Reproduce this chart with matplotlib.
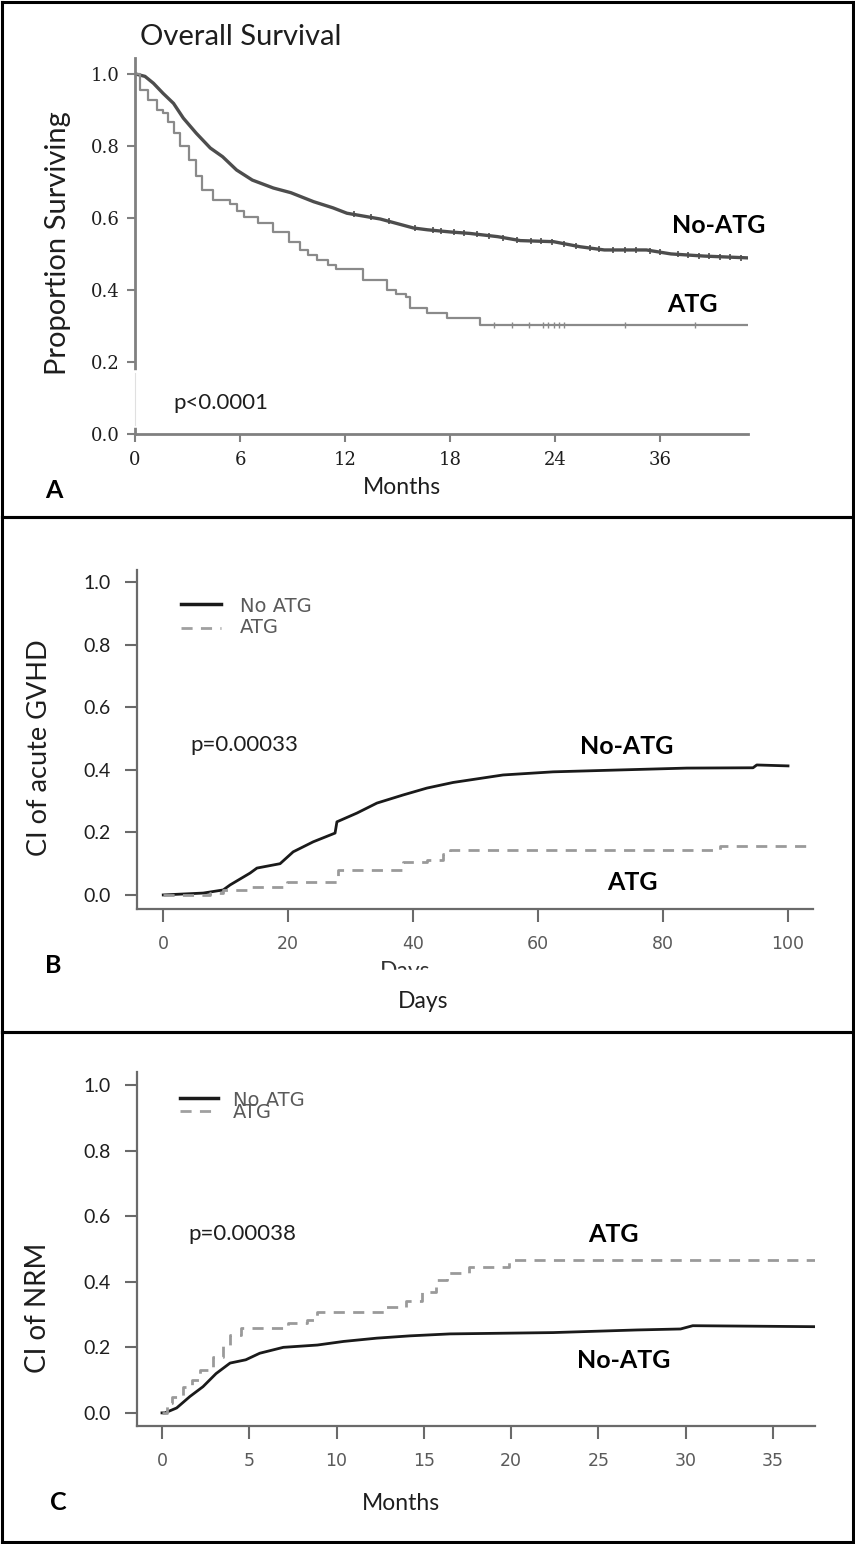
import numpy as np
import matplotlib
matplotlib.use("Agg")
import matplotlib.pyplot as plt
from matplotlib.lines import Line2D

W, H = 855, 1544

# ---------------- DATA ----------------
# Panel A: Overall survival (x in axis units; tick labels below)
a_noatg_t = [0, 0.57, 1.05, 1.6, 2.2, 2.76, 3.5, 4.3, 5.0, 5.8, 6.7, 7.9, 8.9, 10.2, 11.3,
             12.1, 14.0, 15.9, 16.7, 18.0, 19.1, 20.7, 22.0, 23.9, 25.4, 26.8, 29.2, 30.6,
             32.5, 35.0]
a_noatg_s = [1.0, 0.993, 0.974, 0.946, 0.918, 0.877, 0.835, 0.794, 0.770, 0.733, 0.705,
             0.683, 0.670, 0.645, 0.628, 0.613, 0.597, 0.572, 0.567, 0.561, 0.557, 0.548,
             0.537, 0.534, 0.520, 0.511, 0.511, 0.500, 0.494, 0.489]
a_atg_t = [0, 0.29, 0.76, 1.24, 1.6, 1.9, 2.2, 2.57, 3.1, 3.5, 3.8, 4.45, 5.4, 5.8, 6.2, 7.0,
           7.9, 8.8, 9.4, 9.9, 10.4, 11.0, 11.5, 13.0, 14.4, 14.9, 15.5, 15.7, 16.7, 17.8,
           19.7, 35.0]
a_atg_s = [1.0, 0.956, 0.928, 0.90, 0.89, 0.865, 0.835, 0.80, 0.76, 0.715, 0.678, 0.65,
           0.64, 0.62, 0.603, 0.585, 0.56, 0.533, 0.511, 0.497, 0.483, 0.47, 0.458, 0.428,
           0.40, 0.39, 0.38, 0.35, 0.336, 0.322, 0.303, 0.303]
a_noatg_cens = [12.5, 13.5, 14.5, 16.0, 17.0, 17.5, 18.2, 18.8, 19.5, 20.2, 21.0, 21.8, 22.6,
                23.2, 23.8, 24.5, 25.2, 26.0, 26.5, 27.3, 28.0, 28.6, 29.4, 30.0, 31.0, 31.6,
                32.2, 32.8, 33.4, 34.0, 34.6]
a_atg_cens = [20.5, 21.5, 22.5, 23.3, 23.6, 23.9, 24.2, 24.5, 28.0, 32.0]
a_xticks = [0, 6, 12, 18, 24, 30]
a_xticklabels = ["0", "6", "12", "18", "24", "36"]
a_yticks = [0.0, 0.2, 0.4, 0.6, 0.8, 1.0]

# Panel B: cumulative incidence of acute GVHD (days)
b_noatg_t = [0, 6.4, 9.6, 10.7, 13.9, 15.0, 18.7, 20.8, 24.0, 27.5, 27.8, 31.0, 34.2, 38.4,
             42.2, 46.4, 54.4, 62.4, 73.0, 83.8, 94.4, 95.0, 100.0]
b_noatg_c = [0.0, 0.006, 0.016, 0.032, 0.070, 0.086, 0.100, 0.138, 0.170, 0.198, 0.234,
             0.262, 0.294, 0.320, 0.342, 0.360, 0.384, 0.394, 0.400, 0.406, 0.407, 0.416, 0.413]
b_atg_t = [0, 7.5, 9.6, 13.4, 19.8, 28.0, 38.4, 42.2, 44.8, 45.9, 89.1, 104.0]
b_atg_c = [0.0, 0.006, 0.016, 0.026, 0.042, 0.080, 0.106, 0.112, 0.130, 0.144, 0.157, 0.157]
b_xticks = [0, 20, 40, 60, 80, 100]
b_yticks = [0.0, 0.2, 0.4, 0.6, 0.8, 1.0]

# Panel C: cumulative incidence of NRM (months)
c_noatg_t = [0, 0.17, 0.84, 1.6, 2.35, 3.1, 3.9, 4.8, 5.6, 6.95, 8.9, 10.4, 12.3, 14.2,
             16.5, 22.4, 27.2, 29.7, 30.4, 37.4]
c_noatg_c = [0.0, 0.0, 0.015, 0.05, 0.08, 0.12, 0.152, 0.162, 0.182, 0.200, 0.207, 0.218,
             0.228, 0.235, 0.241, 0.245, 0.253, 0.256, 0.266, 0.263]
c_atg_t = [0, 0.3, 0.57, 1.2, 1.7, 2.2, 2.9, 3.5, 3.9, 4.5, 7.2, 8.3, 8.9, 12.7, 14.0, 14.9,
           15.7, 16.3, 17.6, 19.9, 37.4]
c_atg_c = [0.0, 0.03, 0.05, 0.08, 0.10, 0.13, 0.17, 0.207, 0.238, 0.26, 0.275, 0.284, 0.308,
           0.324, 0.34, 0.37, 0.405, 0.427, 0.446, 0.467, 0.467]
c_xticks = [0, 5, 10, 15, 20, 25, 30, 35]
c_yticks = [0.0, 0.2, 0.4, 0.6, 0.8, 1.0]

series_labels = ["No ATG", "ATG"]

# ---------------- FIGURE ----------------
fig = plt.figure(figsize=(W / 100, H / 100), dpi=100)
fig.patch.set_facecolor("white")


def px_axes(l, t, r, b):
    return fig.add_axes([l / W, 1 - b / H, (r - l) / W, (b - t) / H])


def ftxt(x, y, s, **kw):
    kw.setdefault("va", "baseline")
    return fig.text(x / W, 1 - y / H, s, **kw)


def fline(xs, ys, **kw):
    fig.add_artist(Line2D([x / W for x in xs], [1 - y / H for y in ys],
                          transform=fig.transFigure, **kw))


def step_value(times, vals, q):
    idx = np.searchsorted(np.asarray(times), np.asarray(q), side="right") - 1
    return np.asarray(vals)[np.clip(idx, 0, len(vals) - 1)]


SANS = ["Lato", "DejaVu Sans"]
WIDE = ["DejaVu Sans"]
SERIF = ["DejaVu Serif"]
TXT = "#1e1e1e"

# panel borders
for (t, b) in [(2, 517), (517, 1032), (1032, 1542)]:
    for xs, ys in [([2, 853], [t, t]), ([2, 853], [b, b]), ([2, 2], [t, b]), ([853, 853], [t, b])]:
        fline(xs, ys, color="black", lw=2.2)

# ---------------- Panel A ----------------
axA = px_axes(135, 58, 748, 434)
axA.plot(a_noatg_t, a_noatg_s, color="#4d4d4d", lw=2.4, solid_joinstyle="round")
axA.step(a_atg_t, a_atg_s, where="post", color="#8a8a8a", lw=1.6)
axA.plot(a_noatg_cens, np.interp(a_noatg_cens, a_noatg_t, a_noatg_s), ls="none",
         marker="|", ms=5, mew=1.2, color="#4d4d4d")
axA.plot(a_atg_cens, step_value(a_atg_t, a_atg_s, a_atg_cens), ls="none",
         marker="|", ms=4, mew=1.0, color="#8a8a8a")
axA.set_xlim(0, 35)
axA.set_ylim(0, 1.044)
axA.set_xticks(a_xticks)
axA.set_xticklabels(a_xticklabels)
axA.set_yticks(a_yticks)
axA.set_yticklabels([f"{v:.1f}" for v in a_yticks])
for s in ["top", "right"]:
    axA.spines[s].set_visible(False)
for s in ["left", "bottom"]:
    axA.spines[s].set_color("#808080")
    axA.spines[s].set_linewidth(2.0)
axA.tick_params(axis="both", colors="#808080", width=1.5, length=6, direction="out")
axA.tick_params(axis="y", pad=5)
axA.tick_params(axis="x", pad=6)
for lab in axA.get_xticklabels() + axA.get_yticklabels():
    lab.set_family(SERIF)
    lab.set_fontsize(13)
    lab.set_color(TXT)
# break in the y axis behind the p-value
axA.plot([0, 0], [0.025, 0.17], color="white", lw=4, clip_on=False, zorder=5)
axA.plot([0, 0], [0.025, 0.17], color="#e0e0e0", lw=0.8, clip_on=False, zorder=6)

ftxt(140, 45, "Overall Survival", family=SANS, fontsize=21, ha="left", color=TXT)
ftxt(58, 243, "Proportion Surviving", family=SANS, fontsize=21, rotation=90,
     ha="center", va="center", color=TXT)
ftxt(173, 409, "p<0.0001", family=SANS, fontsize=16, ha="left", color=TXT)
ftxt(672, 233, "No-ATG", family=SANS, fontsize=18, weight="bold", ha="left", color="black")
ftxt(667, 312, "ATG", family=SANS, fontsize=18, weight="bold", ha="left", color="black")
ftxt(45, 498, "A", family=SANS, fontsize=18, weight="bold", ha="left", color="black")
ftxt(402, 494, "Months", family=SANS, fontsize=16.5, ha="center", color=TXT)


# ---------------- Panels B & C common styling ----------------
def style_bc(ax, xticks, yticks):
    ax.set_xticks(xticks)
    ax.set_yticks(yticks)
    ax.set_xticklabels([str(v) for v in xticks])
    ax.set_yticklabels([f"{v:.1f}" for v in yticks])
    for s in ["top", "right"]:
        ax.spines[s].set_visible(False)
    for s in ["left", "bottom"]:
        ax.spines[s].set_color("#6a6a6a")
        ax.spines[s].set_linewidth(1.6)
    ax.tick_params(axis="both", colors="#6a6a6a", width=1.5, length=9, direction="out")
    ax.tick_params(axis="y", pad=10)
    ax.tick_params(axis="x", pad=10)
    for lab in ax.get_xticklabels():
        lab.set_family(WIDE)
        lab.set_fontsize(12.5)
        lab.set_color("#5a5a5a")
    for lab in ax.get_yticklabels():
        lab.set_family(SANS)
        lab.set_fontsize(14)
        lab.set_color(TXT)


def manual_legend(x0, x1, tx, rows):
    for (ly, ty, style, lab) in rows:
        if style == "solid":
            fline([x0, x1], [ly, ly], color="#1a1a1a", lw=2.5)
        else:
            fline([x0, x1], [ly, ly], color="#a0a0a0", lw=2.0, ls=(0, (4, 3)))
        ftxt(tx, ty, lab, family=WIDE, fontsize=14, ha="left", color="#5a5a5a")


# ---------------- Panel B ----------------
axB = px_axes(137, 570, 813, 909)
axB.plot(b_noatg_t, b_noatg_c, color="#1a1a1a", lw=2.0)
axB.step(b_atg_t, b_atg_c, where="post", color="#9a9a9a", lw=2.0, ls=(0, (4, 3)))
axB.set_xlim(-4.2, 104)
axB.set_ylim(-0.045, 1.04)
style_bc(axB, b_xticks, b_yticks)
manual_legend(181, 221, 240, [(604, 612, "solid", series_labels[0]),
                              (628, 633, "dashed", series_labels[1])])

ftxt(40, 748, "CI of acute GVHD", family=SANS, fontsize=19.5, rotation=90,
     ha="center", va="center", color=TXT)
ftxt(190, 751, "p=0.00033", family=SANS, fontsize=16, ha="left", color=TXT)
ftxt(580, 754, "No-ATG", family=SANS, fontsize=18, weight="bold", ha="left", color="black")
ftxt(607, 890, "ATG", family=SANS, fontsize=18, weight="bold", ha="left", color="black")
ftxt(45, 973, "B", family=SANS, fontsize=18, weight="bold", ha="left", color="black")
# partially hidden duplicate axis title (as in the source image)
ftxt(380, 961, "Days", family=SANS, fontsize=16.5, ha="left", va="top", color="#333333")
fig.add_artist(plt.Rectangle((360 / W, 1 - 990 / H), 110 / W, 20 / H, color="white",
                             transform=fig.transFigure, zorder=10))
ftxt(398, 1008, "Days", family=SANS, fontsize=16.5, ha="left", color=TXT, zorder=11)

# ---------------- Panel C ----------------
axC = px_axes(137, 1072, 815, 1426)
axC.plot(c_noatg_t, c_noatg_c, color="#1a1a1a", lw=2.0)
axC.step(c_atg_t, c_atg_c, where="post", color="#9a9a9a", lw=2.0, ls=(0, (4, 3)))
axC.set_xlim(-1.43, 37.4)
axC.set_ylim(-0.04, 1.04)
style_bc(axC, c_xticks, c_yticks)
manual_legend(180, 218, 233, [(1098, 1106, "solid", series_labels[0]),
                              (1111, 1118, "dashed", series_labels[1])])

ftxt(38, 1308, "CI of NRM", family=SANS, fontsize=20, rotation=90,
     ha="center", va="center", color=TXT)
ftxt(188, 1240, "p=0.00038", family=SANS, fontsize=16, ha="left", color=TXT)
ftxt(588, 1242, "ATG", family=SANS, fontsize=18, weight="bold", ha="left", color="black")
ftxt(577, 1368, "No-ATG", family=SANS, fontsize=18, weight="bold", ha="left", color="black")
ftxt(50, 1510, "C", family=SANS, fontsize=18, weight="bold", ha="left", color="black")
ftxt(362, 1510, "Months", family=SANS, fontsize=16.5, ha="left", color=TXT)

fig.savefig("out.png", dpi=100, facecolor="white")
